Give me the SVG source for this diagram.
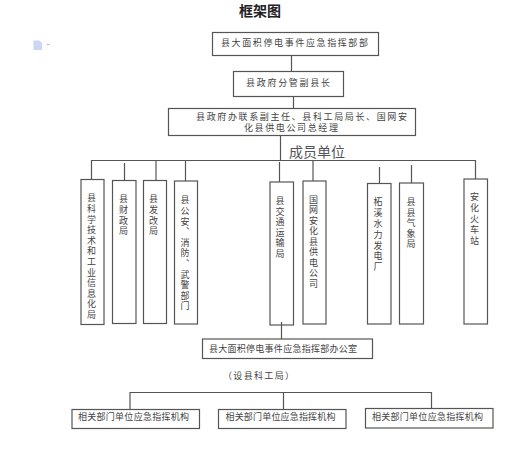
<svg xmlns="http://www.w3.org/2000/svg" width="522" height="459" viewBox="0 0 522 459">
<style>
rect.b{fill:#fff;stroke:#555;stroke-width:1.2}
.c line{stroke:#555;stroke-width:1.2}
text{font-family:"Noto Sans CJK SC","Liberation Sans",sans-serif;font-size:9px;fill:#444}
.v{writing-mode:vertical-rl;letter-spacing:1.600px}
</style>
<rect width="522" height="459" fill="#fff"/>
<text id="title" x="260" y="16" text-anchor="middle" style="font-size:14px;font-weight:700;fill:#222">框架图</text>
<g id="icon"><path d="M33.500 40.500h6l2.500 2.500v7h-8.500z" fill="#c9d8f0"/><rect x="47" y="44" width="2.500" height="1" fill="#bbb"/></g>
<g id="connectors" class="c">
<line x1="291.500" y1="55" x2="291.500" y2="72"/>
<line x1="293.500" y1="97" x2="293.500" y2="108"/>
<line x1="280.500" y1="136" x2="280.500" y2="160"/>
<line x1="91.500" y1="160.500" x2="475.500" y2="160.500"/>
<line x1="91.500" y1="160" x2="91.500" y2="180"/>
<line x1="124.500" y1="163" x2="124.500" y2="181"/>
<line x1="156" y1="161" x2="156" y2="181"/>
<line x1="185.500" y1="161" x2="185.500" y2="181"/>
<line x1="279.500" y1="162" x2="279.500" y2="182"/>
<line x1="313" y1="161" x2="313" y2="181"/>
<line x1="379.500" y1="167" x2="379.500" y2="183"/>
<line x1="411.500" y1="165" x2="411.500" y2="183"/>
<line x1="475.500" y1="160" x2="475.500" y2="179"/>
<line x1="130" y1="392.500" x2="431.500" y2="392.500"/>
<line x1="130" y1="392" x2="130" y2="409"/>
<line x1="283.500" y1="392" x2="283.500" y2="409"/>
<line x1="431.500" y1="392" x2="431.500" y2="408"/>
</g>
<g id="n1"><rect class="b" x="212.500" y="32.500" width="166" height="23"/><text x="221" y="46" textLength="147">县大面积停电事件应急指挥部部</text></g>
<g id="n2"><rect class="b" x="233.500" y="71.500" width="110" height="25"/><text x="246" y="86" textLength="84">县政府分管副县长</text></g>
<g id="n3"><rect class="b" x="168.500" y="108.500" width="247" height="27"/><text x="196" y="119.500" textLength="211">县政府办联系副主任、县科工局局长、国网安</text><text x="244" y="131" textLength="94">化县供电公司总经理</text></g>
<text id="members" x="289" y="157" textLength="56" style="font-size:14px;fill:#555">成员单位</text>
<g id="m1"><rect class="b" x="81" y="179.500" width="23" height="145"/><text class="v" x="91.500" y="193.500">县科学技术和工业信息化局</text></g>
<g id="m2"><rect class="b" x="112.500" y="180.500" width="23.500" height="143"/><text class="v" x="123.500" y="194.500">县财政局</text></g>
<g id="m3"><rect class="b" x="143.500" y="180.500" width="23" height="143"/><text class="v" x="153.500" y="194.500">县发改局</text></g>
<g id="m4"><rect class="b" x="174.500" y="181" width="23" height="143"/><text class="v" x="185" y="195.500">县公安、消防、武警部门</text></g>
<g id="m5"><rect class="b" x="270" y="182" width="23.500" height="143"/><text class="v" x="280" y="196">县交通运输局</text></g>
<g id="m6"><rect class="b" x="303" y="181" width="23" height="143"/><text class="v" x="313.500" y="195" style="letter-spacing:1.450px">国网安化县供电公司</text></g>
<g id="m7"><rect class="b" x="367.500" y="183.500" width="23.500" height="140.500"/><text class="v" x="378" y="197.500" style="letter-spacing:1.800px">柘溪水力发电厂</text></g>
<g id="m8"><rect class="b" x="399.500" y="183" width="24" height="141"/><text class="v" x="411" y="197">县县气象局</text></g>
<g id="m9"><rect class="b" x="464" y="179" width="23.500" height="145"/><text class="v" x="474.500" y="192.500" style="letter-spacing:1.900px">安化火车站</text></g>
<g id="connector-office" class="c"><line x1="281.500" y1="322" x2="281.500" y2="339"/></g>
<g id="office"><rect class="b" x="202.500" y="339" width="170" height="19.500"/><text x="209" y="352" textLength="148">县大面积停电事件应急指挥部办公室</text></g>
<text id="note" x="223" y="379" textLength="71">（设县科工局）</text>
<g id="r1"><rect class="b" x="72" y="409.500" width="127.500" height="19"/><text x="78" y="420" textLength="111">相关部门单位应急指挥机构</text></g>
<g id="r2"><rect class="b" x="218.500" y="409.500" width="127.500" height="19"/><text x="225.500" y="420" textLength="110">相关部门单位应急指挥机构</text></g>
<g id="r3"><rect class="b" x="365.500" y="408.500" width="127.500" height="19.500"/><text x="372" y="419.500" textLength="111">相关部门单位应急指挥机构</text></g>
</svg>
